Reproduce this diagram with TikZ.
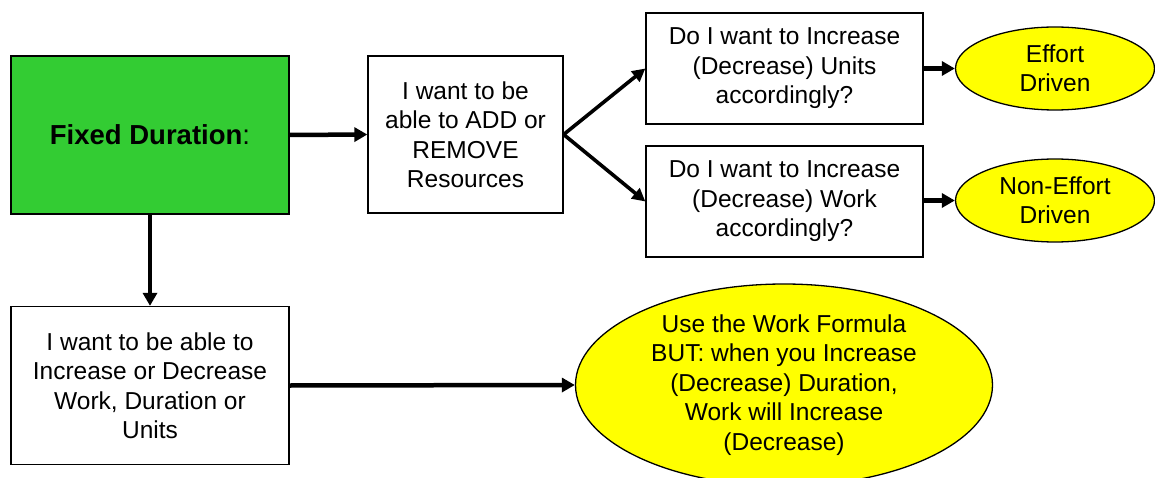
\documentclass[tikz,border=0pt]{standalone}
\usepackage{fontspec}
\setmainfont{Liberation Sans}
\usetikzlibrary{shapes.geometric,arrows.meta}
\definecolor{boxgreen}{HTML}{33CC33}
\definecolor{ellyellow}{HTML}{FFFF00}
\tikzset{
  txt/.style={font=\fontsize{24.5}{29.5}\selectfont, align=center, text=black},
  plainbox/.style={txt, draw=black, line width=1.3pt, fill=white, inner sep=0pt},
  oval/.style={txt, ellipse, draw=black, line width=1.3pt, fill=ellyellow, inner sep=0pt},
  arr/.style={line width=4.5pt, -{Triangle[length=13pt,width=14pt]}},
  thinarr/.style={line width=3.6pt, -{Triangle[length=13pt,width=13pt]}}
}
\begin{document}
\begin{tikzpicture}[x=1pt,y=-1pt]
\useasboundingbox (0,0) rectangle (1155,478);
\node[plainbox, fill=boxgreen, minimum width=278pt, minimum height=158pt] (fd) at (150,135)
  {\fontsize{27.5}{32}\selectfont\textbf{Fixed Duration}:};
\node[plainbox, minimum width=195pt, minimum height=157pt] (add) at (465.5,134.5)
  {I want to be\\able to ADD or\\REMOVE\\Resources};
\node[plainbox, minimum width=277pt, minimum height=111pt] (units) at (784.5,68.5)
  {Do I want to Increase\\(Decrease) Units\\accordingly?};
\node[plainbox, minimum width=277pt, minimum height=111pt] (work) at (784.5,201.5)
  {Do I want to Increase\\(Decrease) Work\\accordingly?};
\node[oval, minimum width=199pt, minimum height=83pt] (effort) at (1055,68.5)
  {Effort\\Driven};
\node[oval, minimum width=199pt, minimum height=83pt] (noneffort) at (1055,200.5)
  {Non-Effort\\Driven};
\node[plainbox, minimum width=278pt, minimum height=158pt] (incdec) at (150,385.5)
  {I want to be able to\\Increase or Decrease\\Work, Duration or\\Units};
\node[oval, minimum width=417pt, minimum height=202pt] (formula) at (784,385)
  {Use the Work Formula\\BUT: when you Increase\\(Decrease) Duration,\\Work will Increase\\(Decrease)};
\draw[arr] (fd.east) -- (add.west);
\draw[thinarr] (add.east) -- (units.west);
\draw[thinarr] (add.east) -- (work.west);
\draw[arr] (units.east) -- (effort.west);
\draw[arr] (work.east |- noneffort.west) -- (noneffort.west);
\draw[arr] (fd.south) -- (incdec.north);
\draw[arr] (incdec.east) -- (formula.west);
\end{tikzpicture}
\end{document}
